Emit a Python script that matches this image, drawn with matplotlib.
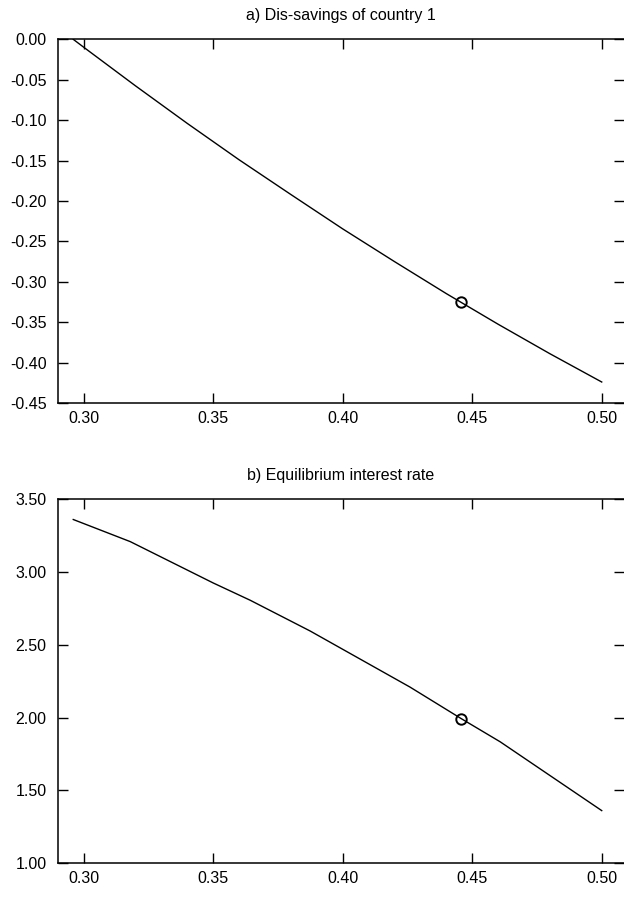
import numpy as np
import matplotlib
matplotlib.use('Agg')
import matplotlib.pyplot as plt
from matplotlib.ticker import FormatStrFormatter

plt.rcParams['font.family'] = ['Liberation Sans', 'DejaVu Sans']
plt.rcParams['font.size'] = 11.5
plt.rcParams['axes.unicode_minus'] = False

# a) dis-savings of country 1
share_a = [0.296, 0.30, 0.32, 0.34, 0.36, 0.38, 0.40, 0.42, 0.44, 0.46, 0.48, 0.50]
dissave = [0.0, -0.0097, -0.0575, -0.104, -0.149, -0.192, -0.2345, -0.275, -0.3146, -0.3525, -0.389, -0.424]

# b) equilibrium interest rate
share_b = [0.296, 0.318, 0.35, 0.3643, 0.3874, 0.426, 0.4457, 0.4608, 0.50]
rate = [3.361, 3.209, 2.925, 2.806, 2.595, 2.209, 1.993, 1.833, 1.36]

# equilibrium point
eq_x = 0.4457
eq_dissave = -0.3255
eq_rate = 1.993

yticks_a = [-0.45, -0.40, -0.35, -0.30, -0.25, -0.20, -0.15, -0.10, -0.05, 0.0]
yticks_b = [1.0, 1.5, 2.0, 2.5, 3.0, 3.5]
xticks = [0.30, 0.35, 0.40, 0.45, 0.50]

fig = plt.figure(figsize=(6.24, 8.98), dpi=100)
ax1 = fig.add_axes([0.0925, 0.5512, 0.9075, 0.405])
ax2 = fig.add_axes([0.0925, 0.0390, 0.9075, 0.405])


def style(ax):
    ax.set_xlim(0.29, 0.5086)
    ax.set_xticks(xticks)
    ax.xaxis.set_major_formatter(FormatStrFormatter('%.2f'))
    ax.yaxis.set_major_formatter(FormatStrFormatter('%.2f'))
    ax.tick_params(direction='in', length=7.2, width=1.0, top=True, right=True)
    ax.tick_params(axis='x', pad=6)
    ax.tick_params(axis='y', pad=8)
    for side in ['left', 'bottom', 'top']:
        ax.spines[side].set_linewidth(1.1)
    ax.spines['right'].set_visible(False)


ax1.plot(share_a, dissave, color='black', lw=1.0)
ax1.plot([eq_x], [eq_dissave], 'o', mfc='none', mec='black', ms=7.5, mew=1.4)
ax1.set_ylim(-0.45, 0.0)
ax1.set_yticks(yticks_a)
ax1.set_title('a) Dis-savings of country 1', fontsize=11.5, pad=14)
style(ax1)

ax2.plot(share_b, rate, color='black', lw=1.0)
ax2.plot([eq_x], [eq_rate], 'o', mfc='none', mec='black', ms=7.5, mew=1.4)
ax2.set_ylim(1.0, 3.5)
ax2.set_yticks(yticks_b)
ax2.set_title('b) Equilibrium interest rate', fontsize=11.5, pad=14)
style(ax2)

fig.savefig('out.png', dpi=100)
plt.close()
